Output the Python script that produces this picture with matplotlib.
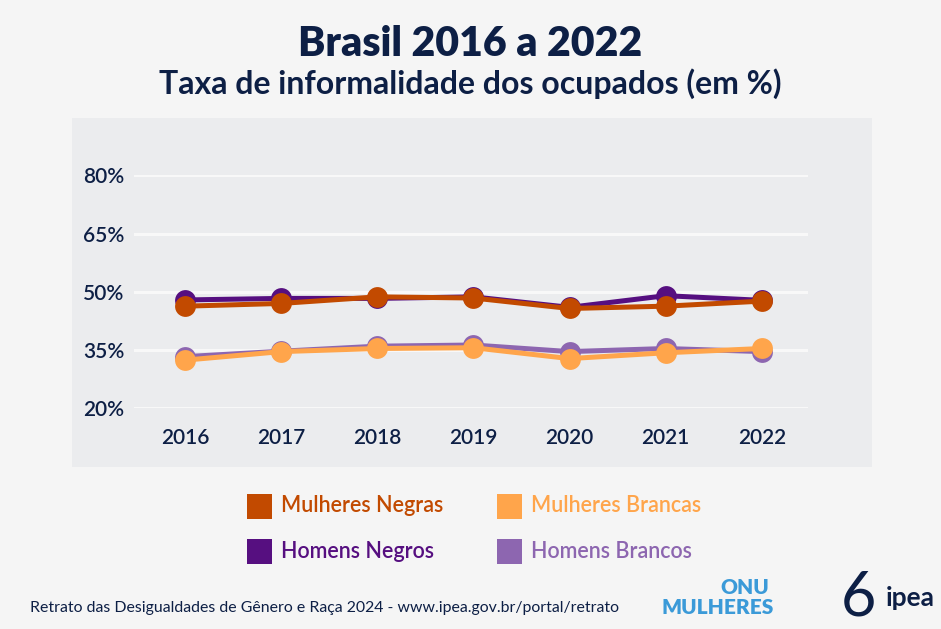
import matplotlib
matplotlib.use('Agg')
import matplotlib.pyplot as plt
import matplotlib.patches as mpatches

# data (%)
years = [2016, 2017, 2018, 2019, 2020, 2021, 2022]
mulheres_negras = [46.3, 47.0, 48.7, 48.4, 45.7, 46.3, 47.6]
homens_negros = [47.9, 48.3, 48.3, 48.7, 46.0, 49.0, 47.8]
mulheres_brancas = [32.4, 34.6, 35.4, 35.6, 32.8, 34.3, 35.4]
homens_brancos = [33.3, 34.7, 36.0, 36.3, 34.6, 35.4, 34.6]
y_ticks = [20, 35, 50, 65, 80]

series = [
    ('Homens Negros', homens_negros, '#560f80'),
    ('Mulheres Negras', mulheres_negras, '#c24a00'),
    ('Homens Brancos', homens_brancos, '#8d66b0'),
    ('Mulheres Brancas', mulheres_brancas, '#ffa54b'),
]

plt.rcParams['font.family'] = ['Lato', 'DejaVu Sans']
navy = '#0d1f45'
bg = '#f5f5f5'
panel = '#ebecee'

W, H = 941, 629
fig = plt.figure(figsize=(W / 100, H / 100), dpi=100, facecolor=bg)

# grey panel behind the plot
fig.patches.append(mpatches.Rectangle((72 / W, 1 - 467 / H), 800 / W, 349 / H,
                                      transform=fig.transFigure, facecolor=panel,
                                      edgecolor='none', zorder=-5))

ax = fig.add_axes([134 / W, 1 - 408.3 / H, 674 / W, 233 / H])
ax.set_facecolor('none')
ax.set_zorder(2)
ax.set_xlim(2015.47, 2022.48)
ax.set_ylim(20, 80)
for t in y_ticks:
    ax.axhline(t, color='#f8f8f8', linewidth=2.2, zorder=1)

for name, vals, col in series:
    ax.plot(years, vals, color=col, linewidth=3.6, marker='o', markersize=15,
            markeredgewidth=0, zorder=3, clip_on=False)

ax.set_yticks(y_ticks)
ax.set_yticklabels([f'{t}%' for t in y_ticks])
ax.set_xticks(years)
ax.tick_params(axis='both', length=0, labelsize=15, labelcolor=navy)
ax.tick_params(axis='y', pad=7)
ax.tick_params(axis='x', pad=14)
for lab in ax.get_xticklabels() + ax.get_yticklabels():
    lab.set_fontweight('semibold')
for s in ax.spines.values():
    s.set_visible(False)

# titles
fig.text(0.5, 1 - 44 / H, 'Brasil 2016 a 2022', ha='center', va='center',
         fontsize=29.5, fontweight='heavy', color=navy)
fig.text(0.5, 1 - 84 / H, 'Taxa de informalidade dos ocupados (em %)', ha='center',
         va='center', fontsize=23, fontweight='bold', color=navy)

# legend
legend_items = [
    ('Mulheres Negras', '#c24a00', 247, 506),
    ('Mulheres Brancas', '#ffa54b', 497, 506),
    ('Homens Negros', '#560f80', 247, 551),
    ('Homens Brancos', '#8d66b0', 497, 551),
]
for label, col, x, y in legend_items:
    fig.patches.append(mpatches.Rectangle((x / W, 1 - (y + 12.5) / H), 25 / W, 25 / H,
                                          transform=fig.transFigure, facecolor=col,
                                          edgecolor='none'))
    fig.text((x + 34) / W, 1 - y / H, label, ha='left', va='center',
             fontsize=15.5, fontweight='semibold', color=col)

# footer
fig.text(30 / W, 1 - 608 / H,
         'Retrato das Desigualdades de Gênero e Raça 2024 - www.ipea.gov.br/portal/retrato',
         ha='left', va='center', fontsize=11.4, color=navy)

# logos (text approximations)
fig.text(745 / W, 1 - 587 / H, 'ONU', ha='center', va='center', fontsize=15,
         fontweight='heavy', color='#3b9ad8')
fig.text(718 / W, 1 - 607 / H, 'MULHERES', ha='center', va='center', fontsize=15,
         fontweight='heavy', color='#3b9ad8')
fig.text(858 / W, 1 - 598 / H, '6', ha='center', va='center', fontsize=44,
         fontweight='normal', color=navy)
fig.text(910 / W, 1 - 598 / H, 'ipea', ha='center', va='center', fontsize=19,
         fontweight='bold', color=navy)

fig.savefig('out.png', dpi=100, facecolor=bg)
